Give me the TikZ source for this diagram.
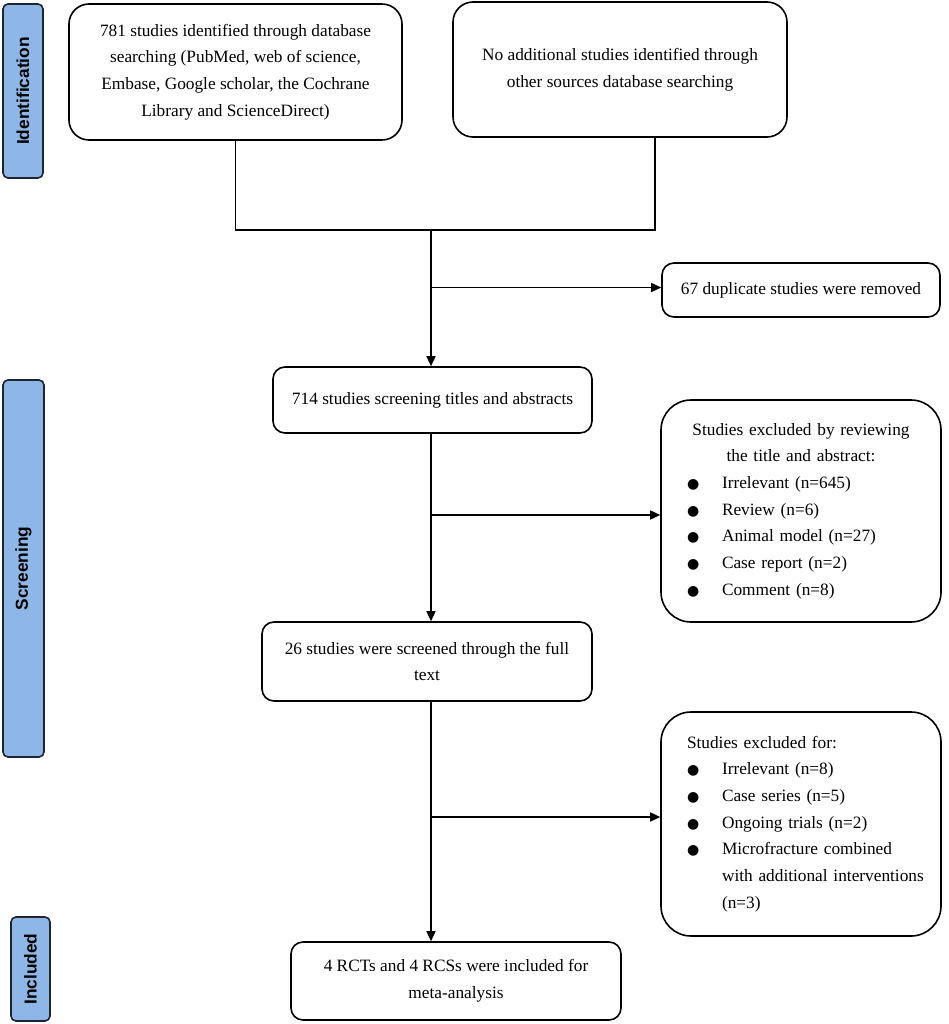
\documentclass[tikz,border=0pt]{standalone}
\usepackage{fontspec}
\setmainfont{Liberation Serif}
\newfontfamily\barfont{Liberation Sans}
\newfontfamily\bulfont{DejaVu Sans}
\usetikzlibrary{arrows.meta,calc}
\definecolor{barblue}{HTML}{8EB6E6}
\definecolor{barline}{HTML}{1E2530}
\newcommand{\blt}{\makebox[35pt][l]{{\bulfont\fontsize{14}{14}\selectfont ●}}}
\newcommand{\ctr}[1]{\makebox[228pt][c]{#1}}
\newcommand{\ind}[1]{\mbox{\hspace*{35pt}#1}}
\begin{document}
\begin{tikzpicture}[x=1pt,y=-1pt,
  txt/.style={font=\fontsize{17.3}{26.7}\selectfont},
  box/.style={txt, draw=black, line width=1.6pt, rounded corners=12pt, align=center, inner sep=0pt},
  bigbox/.style={box, rounded corners=20pt},
  exbox/.style={box, rounded corners=30pt, text width=228pt, align=left},
  bar/.style={draw=barline, fill=barblue, line width=1.6pt, rounded corners=5pt, inner sep=0pt,
     font=\barfont\bfseries\fontsize{17.3}{20}\selectfont, rotate=90},
  conn/.style={draw=black, line width=1.5pt},
  arr/.style={conn, -{Triangle[length=10pt,width=9pt]}}]
\useasboundingbox (0,0) rectangle (948,1024);

% phase bars
\node[bar, minimum width=174pt, minimum height=40pt] (idb) at (23,91) {Identification};
\node[bar, minimum width=377pt, minimum height=41pt] (scb) at (23.5,568.5) {Screening};
\node[bar, minimum width=104pt, minimum height=39pt] (inb) at (30.5,969) {Included};

% boxes
\node[bigbox, minimum width=333pt, minimum height=136pt] (b1) at (235.5,72)
  {781 studies identified through database\\searching (PubMed, web of science,\\Embase, Google scholar, the Cochrane\\Library and ScienceDirect)};
\node[bigbox, minimum width=334pt, minimum height=135pt] (b2) at (620,69.5)
  {No additional studies identified through\\other sources database searching};
\node[box, minimum width=278pt, minimum height=54pt] (dup) at (801,290)
  {67 duplicate studies were removed};
\node[box, minimum width=319pt, minimum height=66pt] (b3) at (432.5,400)
  {714 studies screening titles and abstracts};
\node[exbox, minimum width=280pt, minimum height=222pt] (ex1) at (801,511)
  {\ctr{Studies excluded by reviewing}\\\ctr{the title and abstract:}\\
   \blt Irrelevant (n=645)\\\blt Review (n=6)\\\blt Animal model (n=27)\\
   \blt Case report (n=2)\\\blt Comment (n=8)};
\node[box, minimum width=330pt, minimum height=79pt] (b4) at (427,661.5)
  {26 studies were screened through the full\\text};
\node[exbox, minimum width=280pt, minimum height=224pt] (ex2) at (801,824)
  {Studies excluded for:\\\blt Irrelevant (n=8)\\\blt Case series (n=5)\\
   \blt Ongoing trials (n=2)\\\blt Microfracture combined\\
   \ind{with additional interventions}\\\ind{(n=3)}};
\node[box, minimum width=330pt, minimum height=78pt] (b5) at (456,981)
  {4 RCTs and 4 RCSs were included for\\meta-analysis};

% connectors
\coordinate (j) at (431,230);
\coordinate (d1) at ([yshift=2.5pt]dup.west);
\coordinate (e1) at ([yshift=-4pt]ex1.west);
\coordinate (e2) at ([yshift=7pt]ex2.west);
\draw[conn] (b1.south) |- (j);
\draw[conn] ([xshift=35pt]b2.south) |- (j);
\draw[arr] (j) -- (j |- b3.north);
\draw[arr] (d1 -| j) -- (d1);
\draw[arr] (b3.south -| j) -- (b4.north -| j);
\draw[arr] (e1 -| j) -- (e1);
\draw[arr] (b4.south -| j) -- (b5.north -| j);
\draw[arr] (e2 -| j) -- (e2);
\end{tikzpicture}
\end{document}
